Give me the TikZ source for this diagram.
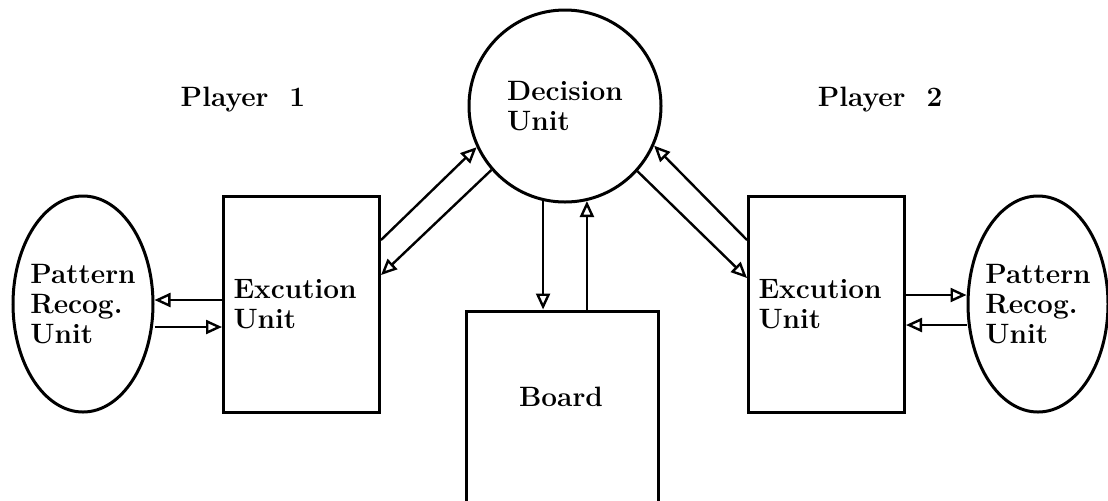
\documentclass[tikz,border=0pt]{standalone}
\usepackage{tikz}
\usetikzlibrary{arrows,arrows.meta}
\usetikzlibrary{shapes,shapes.geometric}
\usetikzlibrary{calc}
\tikzstyle{unitfont}=[font=\fontsize{14}{15}\selectfont\bfseries]
\tikzstyle{unitbox}=[draw, line width=1.5pt, rectangle, minimum width=78pt, minimum height=108pt, inner xsep=5pt, text width=68pt, align=left, unitfont]
\tikzstyle{patunit}=[draw, line width=1.5pt, ellipse, minimum width=70pt, minimum height=108pt, inner xsep=-2.5pt, inner ysep=0pt, align=left, unitfont]
\tikzstyle{flow}=[line width=1.2pt, -{Triangle[open,length=8pt,width=7pt,line width=1.2pt]}]

\begin{document}
\begin{tikzpicture}[x=0.5pt,y=-0.5pt]
	\useasboundingbox (0,0) rectangle (1108,500);
	\node[draw, circle, line width=1.5pt, minimum size=96pt, inner sep=0pt, align=left, unitfont] (dec) at (565,106) {Decision\\Unit};
	\node[unitfont] (play1) at (243,100) {Player\ \ 1};
	\node[unitfont] (play2) at (880,100) {Player\ \ 2};
	\node[unitbox] (exec1) at (301.5,304) {Excution\\Unit};
	\node[unitbox] (exec2) at (826.5,304) {Excution\\Unit};
	\node[patunit] (pat1) at (83,304) {Pattern\\Recog.\\Unit};
	\node[patunit] (pat2) at (1038,304) {Pattern\\Recog.\\Unit};
	\node[draw, line width=1.5pt, minimum width=96pt, minimum height=109pt] (board) at (562,420) {};
	\node[unitfont] (boardtxt) at (561,397) {Board};
	% decision unit <-> execution units
	\draw[flow] ($(exec1.east)+(0,-64)$) -- (dec.205);
	\draw[flow] (dec.221) -- ($(exec1.east)+(0,-29)$);
	\draw[flow] ($(exec2.west)+(0,-64)$) -- (dec.336);
	\draw[flow] (dec.318) -- ($(exec2.west)+(0,-26)$);
	% decision unit <-> board
	\draw[flow] (dec.257) -- (dec.257 |- board.north);
	\draw[flow] (dec.283 |- board.north) -- (dec.283);
	% execution units <-> pattern recognition
	\draw[flow] ($(exec1.west)+(0,-4)$) -- ($(pat1.east)+(0,-4)$);
	\draw[flow] ($(pat1.east)+(0,23)$) -- ($(exec1.west)+(0,23)$);
	\draw[flow] ($(exec2.east)+(0,-9)$) -- ($(pat2.west)+(0,-9)$);
	\draw[flow] ($(pat2.west)+(0,21)$) -- ($(exec2.east)+(0,21)$);
\end{tikzpicture}
\end{document}
